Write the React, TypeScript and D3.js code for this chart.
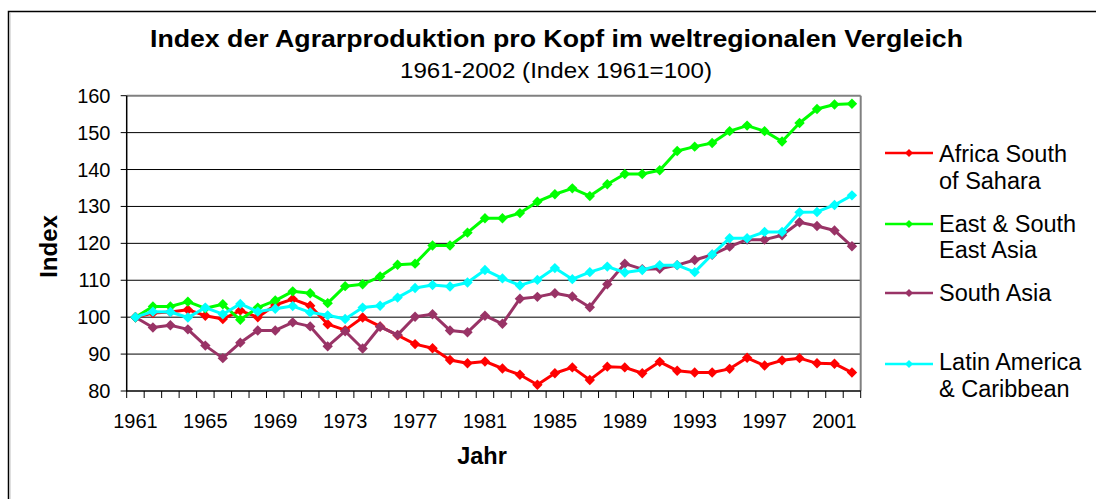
import React from "react";
import * as d3 from "d3";

const years: number[] = d3.range(1961, 2003);

const africa: number[] = [
  100, 101.1, 101.4, 102, 100.4, 99.5, 101.8, 100.0, 103.3, 104.9, 103.1, 98.1, 96.5, 99.9,
  97.5, 95.1, 92.7, 91.6, 88.4, 87.5, 88.0, 86.1, 84.4, 81.7, 84.8, 86.4, 83.0,
  86.6, 86.4, 84.8, 87.9, 85.5, 85.0, 85.0, 86.0, 89.0, 86.9, 88.3, 88.9, 87.5, 87.4, 85.0,
];
const eastAsia: number[] = [
  100, 102.9, 102.9, 104.2, 102.4, 103.5, 99.3, 102.6, 104.5, 107.0, 106.5, 103.8, 108.4, 108.9,
  111.0, 114.2, 114.5, 119.4, 119.4, 122.9, 126.8, 126.8, 128.2, 131.3, 133.3, 134.9, 132.8,
  136.0, 138.8, 138.8, 139.8, 145.0, 146.2, 147.2, 150.4, 151.9, 150.4, 147.6, 152.6, 156.4, 157.6, 157.8,
];
const southAsia: number[] = [
  100, 97.2, 97.8, 96.7, 92.3, 88.9, 93.1, 96.4, 96.4, 98.6, 97.5, 92.1, 96.2, 91.5,
  97.4, 95.2, 100.1, 100.8, 96.4, 95.9, 100.4, 98.2, 105.0, 105.5, 106.5, 105.6, 102.7,
  108.9, 114.5, 113.0, 113.1, 114.1, 115.5, 116.9, 119.1, 121.0, 121.0, 122.2, 125.7, 124.7, 123.5, 119.2,
];
const latinAmerica: number[] = [
  100, 101.5, 101.4, 99.9, 102.6, 100.8, 103.6, 101.5, 102.3, 103.0, 101.3, 100.5, 99.5, 102.6,
  103.1, 105.3, 107.9, 108.7, 108.3, 109.4, 112.8, 110.5, 108.6, 110.1, 113.3, 110.3, 112.2,
  113.7, 112.1, 112.8, 114.1, 114.1, 112.2, 117.0, 121.4, 121.4, 123.1, 123.1, 128.4, 128.5, 130.4, 133.0,
];

const seriesNames: string[][] = [
  ["Africa South", "of Sahara"],
  ["East & South", "East Asia"],
  ["South Asia"],
  ["Latin America", "& Caribbean"],
];
const seriesColors: string[] = ["#FF0000", "#00FF00", "#993366", "#00FFFF"];
const seriesValues: number[][] = [africa, eastAsia, southAsia, latinAmerica];

const yTicks: number[] = [80, 90, 100, 110, 120, 130, 140, 150, 160];
const xTickLabels: number[] = [1961, 1965, 1969, 1973, 1977, 1981, 1985, 1989, 1993, 1997, 2001];

const title = "Index der Agrarproduktion pro Kopf im weltregionalen Vergleich";
const subtitle = "1961-2002 (Index 1961=100)";

const FONT = "'Liberation Sans', Arial, sans-serif";

function diamond(cx: number, cy: number, r: number): string {
  return `M${cx},${cy - r}L${cx + r},${cy}L${cx},${cy + r}L${cx - r},${cy}Z`;
}

export default function App() {
  const W = 1096;
  const H = 499;
  const left = 126.7;
  const right = 860.7;
  const top = 95.7;
  const bottom = 391;

  const x = d3.scaleBand<number>().domain(years).range([left, right]).paddingInner(0).paddingOuter(0);
  const bw = x.bandwidth();
  const cx = (yr: number) => (x(yr) as number) + bw / 2;
  const y = d3.scaleLinear().domain([80, 160]).range([bottom, top]);

  const line = d3
    .line<number>()
    .x((_, i) => cx(years[i]))
    .y((v) => y(v));

  const legendY = [153, 224, 293, 364];
  const legendTextY = [
    [162, 188.5],
    [232, 258],
    [301],
    [370, 396.5],
  ];

  return (
    <svg
      width={W}
      height={H}
      style={{ position: "absolute", left: 0, top: 0, background: "#fff" }}
      fontFamily={FONT}
    >
      <rect x={0} y={0} width={W} height={H} fill="#fff" />
      {/* outer chart border */}
      <rect x={8.5} y={11.5} width={1200} height={600} fill="none" stroke="#000" strokeWidth={1.5} />
      <line x1={10} y1={13} x2={10} y2={H} stroke="#c0c0c0" strokeWidth={1} />

      {/* titles */}
      <text
        x={556.5}
        y={46.5}
        textAnchor="middle"
        fontSize={24}
        fontWeight="bold"
        fill="#000"
        textLength={813}
        lengthAdjust="spacingAndGlyphs"
      >
        {title}
      </text>
      <text
        x={556}
        y={78}
        textAnchor="middle"
        fontSize={22}
        fill="#000"
        textLength={312}
        lengthAdjust="spacingAndGlyphs"
      >
        {subtitle}
      </text>

      {/* gridlines */}
      {yTicks
        .filter((t) => t > 80 && t < 160)
        .map((t) => (
          <line key={"g" + t} x1={left} x2={right} y1={y(t)} y2={y(t)} stroke="#000" strokeWidth={1} />
        ))}
      {/* plot border top/right */}
      <line x1={left} x2={right} y1={top} y2={top} stroke="#808080" strokeWidth={2} />
      <line x1={right} x2={right} y1={top} y2={bottom} stroke="#808080" strokeWidth={2} />

      {/* axes */}
      <line x1={left} x2={left} y1={top} y2={bottom + 0.5} stroke="#000" strokeWidth={1.5} />
      <line x1={left} x2={right} y1={bottom} y2={bottom} stroke="#000" strokeWidth={1.5} />
      {yTicks.map((t) => (
        <g key={"yt" + t}>
          <line x1={left - 6} x2={left} y1={y(t)} y2={y(t)} stroke="#000" strokeWidth={1} />
          <text x={110.5} y={y(t) + 7} textAnchor="end" fontSize={20} fill="#000">
            {t}
          </text>
        </g>
      ))}
      {years.map((yr) => (
        <line key={"xt" + yr} x1={x(yr)} x2={x(yr)} y1={bottom} y2={bottom + 7} stroke="#000" strokeWidth={1} />
      ))}
      <line x1={right} x2={right} y1={bottom} y2={bottom + 7} stroke="#000" strokeWidth={1} />
      {xTickLabels.map((yr) => (
        <text key={"xl" + yr} x={cx(yr)} y={428} textAnchor="middle" fontSize={20} fill="#000">
          {yr}
        </text>
      ))}

      {/* axis titles */}
      <text x={482} y={464} textAnchor="middle" fontSize={23.5} fontWeight="bold" fill="#000">
        Jahr
      </text>
      <text
        transform={`translate(57,246.5) rotate(-90)`}
        textAnchor="middle"
        fontSize={24}
        fontWeight="bold"
        fill="#000"
      >
        Index
      </text>

      {/* series */}
      {seriesValues.map((vals, si) => (
        <g key={"s" + si}>
          <path d={line(vals) as string} fill="none" stroke={seriesColors[si]} strokeWidth={3} strokeLinejoin="round" />
          {vals.map((v, i) => (
            <path key={i} d={diamond(cx(years[i]), y(v), 5.2)} fill={seriesColors[si]} />
          ))}
        </g>
      ))}

      {/* legend */}
      {seriesNames.map((names, si) => (
        <g key={"l" + si}>
          <line x1={885} x2={933} y1={legendY[si]} y2={legendY[si]} stroke={seriesColors[si]} strokeWidth={2.5} />
          <path d={diamond(909, legendY[si], 4)} fill={seriesColors[si]} />
          {names.map((n, j) => (
            <text key={j} x={939} y={legendTextY[si][j]} fontSize={23.5} fill="#000">
              {n}
            </text>
          ))}
        </g>
      ))}
    </svg>
  );
}
